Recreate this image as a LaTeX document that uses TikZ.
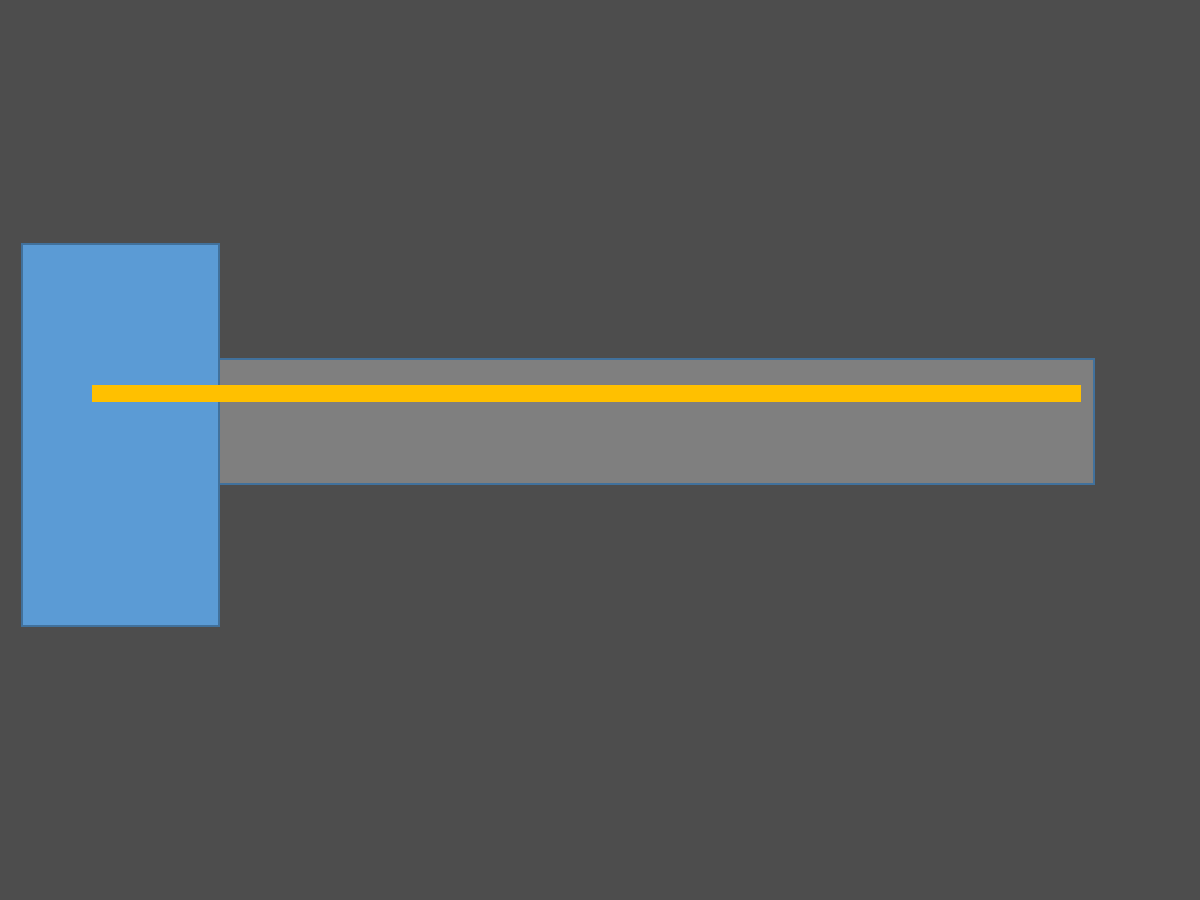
\documentclass[tikz,border=0pt]{standalone}
\usepackage{tikz}
\usetikzlibrary{positioning}
\definecolor{bgdark}{HTML}{4D4D4D}
\definecolor{blockblue}{HTML}{5B9BD5}
\definecolor{edgeblue}{HTML}{41719C}
\definecolor{beamgray}{HTML}{7F7F7F}
\definecolor{rodyellow}{HTML}{FFC000}
\begin{document}
\begin{tikzpicture}[x=1cm, y=1cm]
   \fill[bgdark] (0,0) rectangle (12,9);
   \useasboundingbox (0,0) rectangle (12,9);
   \begin{scope}[every node/.style={rectangle, inner sep=0pt, outer sep=0pt, anchor=south west}]
    \node[draw=edgeblue, line width=0.4pt, fill=blockblue, minimum width=1.97cm, minimum height=3.82cm] (hub) at (0.22, 2.74) {};
    \node[draw=edgeblue, line width=0.4pt, fill=beamgray, minimum width=8.75cm, minimum height=1.25cm] (beam) at (2.19, 4.16) {};
    \node[fill=rodyellow, minimum width=9.89cm, minimum height=0.17cm] (rod) at (0.92, 4.98) {};
   \end{scope}
\end{tikzpicture}
\end{document}
